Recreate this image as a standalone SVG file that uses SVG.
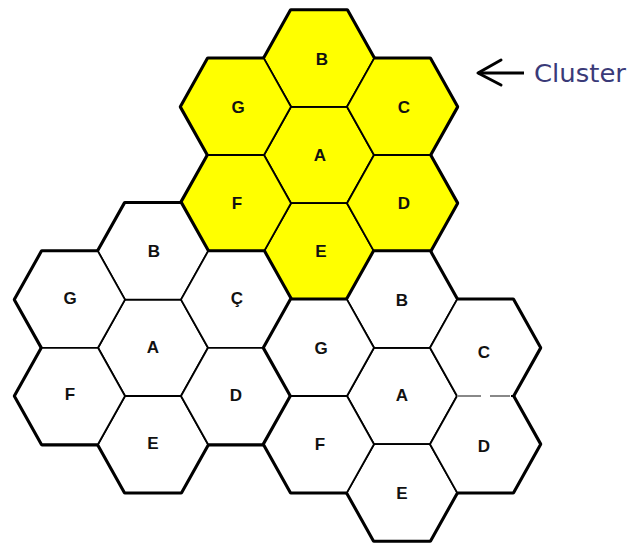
<svg xmlns="http://www.w3.org/2000/svg" xmlns:xlink="http://www.w3.org/1999/xlink" width="629" height="545" viewBox="0 0 629 545">
<style>
.under use{fill:none;stroke:#000;stroke-width:4.4;stroke-linejoin:round}
.cell use{stroke:#000;stroke-width:1.8;stroke-linejoin:round}
.yel use{fill:#ffff00}
.wht use{fill:#ffffff}
.lbl{font-family:"Liberation Sans",Arial,sans-serif;font-size:17px;font-weight:bold;fill:#111;text-anchor:middle}
.cl{font-family:"DejaVu Sans",Verdana,sans-serif;font-size:24px;fill:#3a3a78}
</style>
<defs>
<polygon id="hex" points="-55,0 -28,-48.2 28,-48.2 55,0 28,48.2 -28,48.2"/>
<marker id="open" markerUnits="userSpaceOnUse" markerWidth="40" markerHeight="40" refX="0" refY="0" orient="auto" overflow="visible">
<path d="M-23,-12 L0,0 L-23,13" fill="none" stroke="#000" stroke-width="3" stroke-linecap="round" stroke-linejoin="round"/>
</marker>
</defs>
<rect width="629" height="545" fill="#fff"/>

<g id="cluster-top">
<g class="under">
<use xlink:href="#hex" x="319" y="155"/><use xlink:href="#hex" x="319" y="58.6"/><use xlink:href="#hex" x="319" y="251.4"/>
<use xlink:href="#hex" x="236" y="106.8"/><use xlink:href="#hex" x="236" y="203.2"/><use xlink:href="#hex" x="402" y="106.8"/><use xlink:href="#hex" x="402" y="203.2"/>
</g>
<g id="top-A" class="cell yel"><use xlink:href="#hex" x="319" y="155"/><text class="lbl" x="320" y="161">A</text></g>
<g id="top-B" class="cell yel"><use xlink:href="#hex" x="319" y="58.6"/><text class="lbl" x="322" y="64.5">B</text></g>
<g id="top-E" class="cell yel"><use xlink:href="#hex" x="319" y="251.4"/><text class="lbl" x="321" y="257">E</text></g>
<g id="top-G" class="cell yel"><use xlink:href="#hex" x="236" y="106.8"/><text class="lbl" x="238" y="113">G</text></g>
<g id="top-F" class="cell yel"><use xlink:href="#hex" x="236" y="203.2"/><text class="lbl" x="237" y="209">F</text></g>
<g id="top-C" class="cell yel"><use xlink:href="#hex" x="402" y="106.8"/><text class="lbl" x="404" y="113">C</text></g>
<g id="top-D" class="cell yel"><use xlink:href="#hex" x="402" y="203.2"/><text class="lbl" x="404" y="209">D</text></g>
</g>

<g id="cluster-left">
<g class="under">
<use xlink:href="#hex" x="153" y="347.8"/><use xlink:href="#hex" x="153" y="251.4"/><use xlink:href="#hex" x="153" y="444.2"/>
<use xlink:href="#hex" x="70" y="299.6"/><use xlink:href="#hex" x="70" y="396"/><use xlink:href="#hex" x="236" y="299.6"/><use xlink:href="#hex" x="236" y="396"/>
</g>
<g id="left-A" class="cell wht"><use xlink:href="#hex" x="153" y="347.8"/><text class="lbl" x="153" y="353">A</text></g>
<g id="left-B" class="cell wht"><use xlink:href="#hex" x="153" y="251.4"/><text class="lbl" x="154" y="257">B</text></g>
<g id="left-E" class="cell wht"><use xlink:href="#hex" x="153" y="444.2"/><text class="lbl" x="153" y="449">E</text></g>
<g id="left-G" class="cell wht"><use xlink:href="#hex" x="70" y="299.6"/><text class="lbl" x="70" y="304">G</text></g>
<g id="left-F" class="cell wht"><use xlink:href="#hex" x="70" y="396"/><text class="lbl" x="70" y="400">F</text></g>
<g id="left-C" class="cell wht"><use xlink:href="#hex" x="236" y="299.6"/><text class="lbl" x="237" y="304">Ç</text></g>
<g id="left-D" class="cell wht"><use xlink:href="#hex" x="236" y="396"/><text class="lbl" x="236" y="401">D</text></g>
</g>

<g id="cluster-right">
<g class="under">
<use xlink:href="#hex" x="402" y="396"/><use xlink:href="#hex" x="402" y="299.6"/><use xlink:href="#hex" x="402" y="492.4"/>
<use xlink:href="#hex" x="319" y="347.8"/><use xlink:href="#hex" x="319" y="444.2"/><use xlink:href="#hex" x="485" y="347.8"/><use xlink:href="#hex" x="485" y="444.2"/>
</g>
<g id="right-A" class="cell wht"><use xlink:href="#hex" x="402" y="396"/><text class="lbl" x="402" y="401">A</text></g>
<g id="right-B" class="cell wht"><use xlink:href="#hex" x="402" y="299.6"/><text class="lbl" x="402" y="306">B</text></g>
<g id="right-E" class="cell wht"><use xlink:href="#hex" x="402" y="492.4"/><text class="lbl" x="402" y="499">E</text></g>
<g id="right-G" class="cell wht"><use xlink:href="#hex" x="319" y="347.8"/><text class="lbl" x="321" y="354">G</text></g>
<g id="right-F" class="cell wht"><use xlink:href="#hex" x="319" y="444.2"/><text class="lbl" x="320" y="450">F</text></g>
<g id="right-C" class="cell wht"><use xlink:href="#hex" x="485" y="347.8"/><text class="lbl" x="484" y="358">C</text></g>
<g id="right-D" class="cell wht"><use xlink:href="#hex" x="485" y="444.2"/><text class="lbl" x="484" y="452">D</text></g>
<g id="dashed-edge">
<line x1="459" y1="396" x2="511" y2="396" stroke="#fff" stroke-width="3.5"/>
<line x1="457" y1="396" x2="481" y2="396" stroke="#888" stroke-width="2"/>
<line x1="490" y1="396" x2="510" y2="396" stroke="#888" stroke-width="2"/>
</g>
</g>

<g id="connectors">
<line x1="524" y1="73" x2="478" y2="73" stroke="#000" stroke-width="3" marker-end="url(#open)"/>
</g>
<g id="label-cluster">
<text class="cl" x="534" y="82" textLength="92" lengthAdjust="spacingAndGlyphs">Cluster</text>
</g>
</svg>
